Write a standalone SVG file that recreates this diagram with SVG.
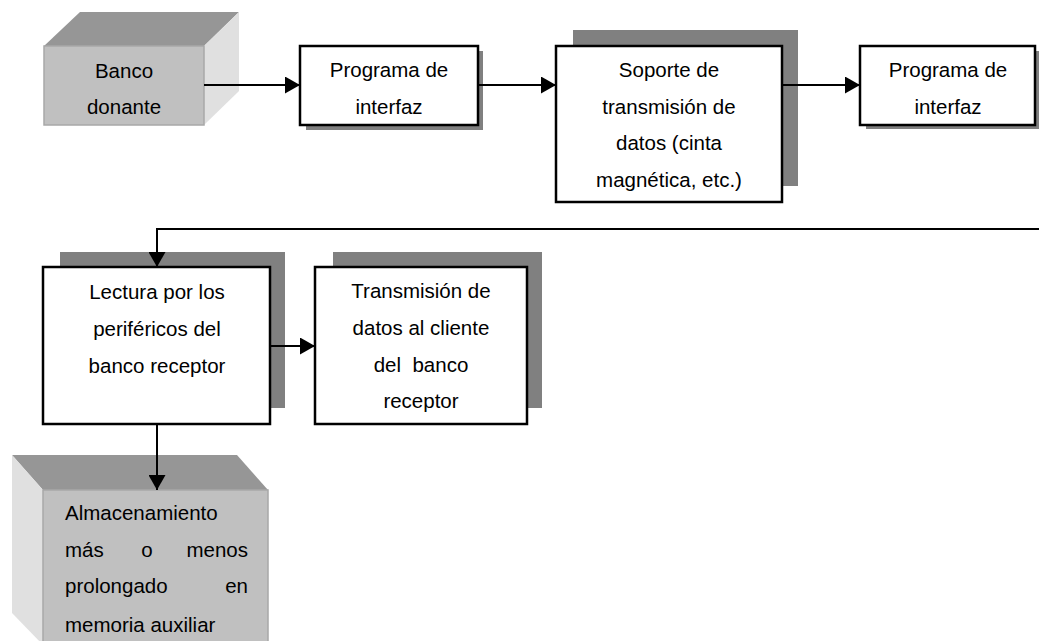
<svg xmlns="http://www.w3.org/2000/svg" width="1039" height="641" viewBox="0 0 1039 641">
<defs>
<style>
.box{fill:#fff;stroke:#000;stroke-width:2.5}
.sh{fill:#808080}
.t{font-family:"Liberation Sans",Arial,sans-serif;font-size:20.5px;fill:#000;text-anchor:middle}
.tl{font-family:"Liberation Sans",Arial,sans-serif;font-size:20.5px;fill:#000}
.c{fill:none;stroke:#000;stroke-width:2}
.front{fill:#c0c0c0;stroke:#a8a8a8;stroke-width:1.5}
.top{fill:#969696}
.side{fill:#e0e0e0}
</style>
<marker id="ah" markerWidth="16" markerHeight="17" refX="15" refY="8.5" orient="auto" markerUnits="userSpaceOnUse">
<path d="M0,0 L15,8.5 L0,17 Z" fill="#000"/>
</marker>
</defs>
<rect width="1039" height="641" fill="#fff"/>
<g id="banco-donante">
<polygon class="top" points="44,46 80,12 239,12 204,46"/>
<polygon class="side" points="204,46 239,12 239,91 204,125"/>
<rect class="front" x="44" y="46" width="160" height="79"/>
<text class="t" x="124" y="78">Banco</text>
<text class="t" x="124" y="114">donante</text>
</g>
<g id="programa1">
<rect class="sh" x="306" y="51" width="177" height="79"/>
<rect class="box" x="300" y="46" width="178" height="79"/>
<text class="t" x="389" y="77">Programa de</text>
<text class="t" x="389" y="114">interfaz</text>
</g>
<g id="soporte">
<rect class="sh" x="573" y="30" width="225" height="156"/>
<rect class="box" x="556" y="46" width="226" height="156"/>
<text class="t" x="669" y="77">Soporte de</text>
<text class="t" x="669" y="114">transmisión de</text>
<text class="t" x="669" y="150">datos (cinta</text>
<text class="t" x="669" y="187">magnética, etc.)</text>
</g>
<g id="programa2">
<rect class="sh" x="866" y="51" width="173" height="78"/>
<rect class="box" x="860" y="46" width="175" height="79"/>
<text class="t" x="948" y="77">Programa de</text>
<text class="t" x="948" y="114">interfaz</text>
</g>
<g id="lectura">
<rect class="sh" x="60" y="252" width="225" height="156"/>
<rect class="box" x="43" y="267" width="227" height="157"/>
<text class="t" x="157" y="299">Lectura por los</text>
<text class="t" x="157" y="336">periféricos del</text>
<text class="t" x="157" y="373">banco receptor</text>
</g>
<g id="transmision">
<rect class="sh" x="333" y="252" width="209" height="156"/>
<rect class="box" x="315" y="267" width="212" height="157"/>
<text class="t" x="421" y="298">Transmisión de</text>
<text class="t" x="421" y="335">datos al cliente</text>
<text class="t" x="421" y="372" xml:space="preserve">del  banco</text>
<text class="t" x="421" y="408">receptor</text>
</g>
<g id="almacenamiento">
<polygon class="top" points="12,455 237,455 268,490 43,490"/>
<polygon class="side" points="12,455 43,490 43,645 12,613"/>
<rect class="front" x="43" y="490" width="225" height="160"/>
<text class="tl" x="65" y="520">Almacenamiento</text>
<text class="tl" x="65" y="557">más</text>
<text class="t" x="147" y="557">o</text>
<text class="tl" x="248" y="557" text-anchor="end">menos</text>
<text class="tl" x="65" y="593">prolongado</text>
<text class="tl" x="248" y="593" text-anchor="end">en</text>
<text class="tl" x="65" y="632">memoria auxiliar</text>
</g>
<g id="connectors">
<line class="c" x1="204" y1="85" x2="300" y2="85" marker-end="url(#ah)"/>
<line class="c" x1="478" y1="85" x2="556" y2="85" marker-end="url(#ah)"/>
<line class="c" x1="782" y1="85" x2="860" y2="85" marker-end="url(#ah)"/>
<polyline class="c" points="1039,229 157,229 157,267" marker-end="url(#ah)"/>
<line class="c" x1="270" y1="346" x2="315" y2="346" marker-end="url(#ah)"/>
<line class="c" x1="157" y1="424" x2="157" y2="490" marker-end="url(#ah)"/>
</g>
</svg>
